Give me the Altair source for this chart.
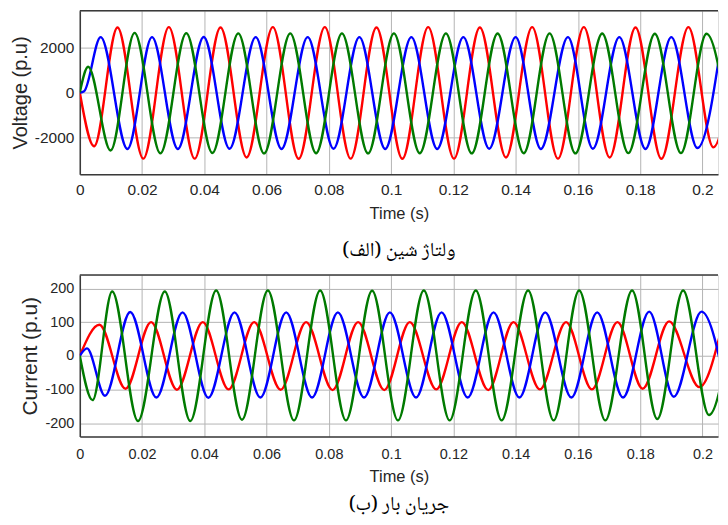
import altair as alt
import pandas as pd

# ---------------- Voltage (extrema) ----------------
v_red_t = [0, 0.0046, 0.0121, 0.0204, 0.0286, 0.0369, 0.0452, 0.0536, 0.0620, 0.0703,
           0.0787, 0.0870, 0.0953, 0.1036, 0.1119, 0.1202, 0.1285, 0.1369, 0.1453, 0.1536,
           0.1619, 0.1702, 0.1785, 0.1868, 0.1955, 0.2035, 0.2110]
v_red_v = [0, -2400, 2900, -2950, 2920, -2950, 2900, -2900, 2920, -2960,
           2920, -2950, 2900, -2960, 2920, -2950, 2900, -2900, 2920, -2950,
           2920, -2900, 2900, -2960, 2920, -2450, 2700]

v_blue_t = [0, 0.0014, 0.0067, 0.0153, 0.0232, 0.0315, 0.0398, 0.0481, 0.0565, 0.0648,
            0.0732, 0.0815, 0.0898, 0.0981, 0.1065, 0.1148, 0.1232, 0.1315, 0.1400, 0.1481,
            0.1568, 0.1648, 0.1733, 0.1817, 0.1900, 0.1984, 0.2063]
v_blue_v = [0, 60, 2470, -2520, 2470, -2520, 2480, -2510, 2470, -2520,
            2470, -2510, 2470, -2520, 2470, -2520, 2470, -2510, 2470, -2520,
            2470, -2510, 2470, -2520, 2470, -2480, 2450]

v_green_t = [0, 0.0027, 0.0099, 0.0176, 0.0259, 0.0342, 0.0426, 0.0509, 0.0592, 0.0676,
             0.0759, 0.0842, 0.0926, 0.1009, 0.1092, 0.1176, 0.1259, 0.1342, 0.1426, 0.1509,
             0.1592, 0.1678, 0.1762, 0.1847, 0.1931, 0.2013, 0.2095]
v_green_v = [0, 1150, -2590, 2660, -2720, 2650, -2700, 2640, -2720, 2640,
             -2710, 2640, -2720, 2640, -2710, 2640, -2720, 2630, -2710, 2640,
             -2720, 2630, -2705, 2620, -2705, 2620, -2650]

# ---------------- Current (extrema) ----------------
c_red_t = [0, 0.0063, 0.0147, 0.0229, 0.0312, 0.0395, 0.0478, 0.0560, 0.0645, 0.0727,
           0.0812, 0.0894, 0.0978, 0.1060, 0.1145, 0.1227, 0.1312, 0.1393, 0.1478, 0.1562,
           0.1645, 0.1727, 0.1808, 0.1893, 0.1990, 0.2062]
c_red_v = [0, 92, -98, 100, -101, 100, -100, 100, -101, 100,
           -102, 100, -102, 100, -100, 100, -102, 100, -100, 100,
           -100, 100, -98, 102, -93, 83]

c_blue_t = [0, 0.0023, 0.0081, 0.0162, 0.0246, 0.0330, 0.0413, 0.0497, 0.0580, 0.0663,
            0.0746, 0.0829, 0.0913, 0.0996, 0.1080, 0.1162, 0.1246, 0.1329, 0.1412, 0.1495,
            0.1579, 0.1662, 0.1745, 0.1829, 0.1908, 0.1997, 0.2080]
c_blue_v = [0, 22, -119, 130, -124, 129, -125, 129, -124, 129,
            -124, 129, -124, 129, -124, 129, -124, 129, -124, 129,
            -124, 129, -124, 131, -122, 131, -118]

c_green_t = [0, 0.0041, 0.0104, 0.0187, 0.0273, 0.0355, 0.0438, 0.0521, 0.0604, 0.0688,
             0.0772, 0.0855, 0.0939, 0.1022, 0.1105, 0.1188, 0.1272, 0.1355, 0.1440, 0.1522,
             0.1604, 0.1688, 0.1774, 0.1855, 0.1938, 0.2021, 0.2105]
c_green_v = [0, -132, 191, -194, 191, -194, 194, -190, 194, -192,
             194, -192, 193, -192, 194, -192, 194, -192, 194, -192,
             194, -192, 194, -188, 194, -176, 170]

x_ticks = [0, 0.02, 0.04, 0.06, 0.08, 0.1, 0.12, 0.14, 0.16, 0.18, 0.2]
v_ticks = [-2000, 0, 2000]
c_ticks = [-200, -100, 0, 100, 200]

phases = ["a", "b", "c"]
colors = ["#ff0000", "#0000ff", "#007a00"]


def long_df(series):
    rows = []
    for name, ts, vs in series:
        for t, v in zip(ts, vs):
            rows.append({"t": t, "v": v, "phase": name})
    return pd.DataFrame(rows)


v_df = long_df([("a", v_red_t, v_red_v), ("b", v_blue_t, v_blue_v), ("c", v_green_t, v_green_v)])
c_df = long_df([("a", c_red_t, c_red_v), ("b", c_blue_t, c_blue_v), ("c", c_green_t, c_green_v)])

FONT = "Liberation Sans"
TXT = "#262626"
GRID = "#b4b4b4"
FRAME = "#3a3a3a"
ARABIC = "Noto Naskh Arabic, Noto Serif Arabic, Amiri, Scheherazade New, DejaVu Serif, serif"


def panel(df, ydomain, yticks, ytitle, caption, w, h, lab_size, ttl_size, lab_pad, cap_offset):
    x = alt.X("t:Q", scale=alt.Scale(domain=[0, 0.205], nice=False, zero=False),
              axis=alt.Axis(values=x_ticks, format="~g", title="Time (s)",
                            grid=True, gridColor=GRID, gridWidth=1,
                            ticks=False, tickSize=0, labelPadding=lab_pad,
                            labelFontSize=lab_size, labelFont=FONT, labelColor=TXT,
                            titleFontSize=16.5, titleFont=FONT, titleColor=TXT,
                            titleFontWeight="normal", titlePadding=8,
                            domain=True, domainColor=FRAME, domainWidth=1.5,
                            labelFlush=False))
    y = alt.Y("v:Q", scale=alt.Scale(domain=ydomain, nice=False, zero=False),
              axis=alt.Axis(values=yticks, labelExpr="'' + datum.value", title=ytitle,
                            grid=True, gridColor=GRID, gridWidth=1,
                            ticks=False, tickSize=0, labelPadding=6,
                            labelFontSize=lab_size, labelFont=FONT, labelColor=TXT,
                            titleFontSize=ttl_size, titleFont=FONT, titleColor=TXT,
                            titleFontWeight="normal", titlePadding=4,
                            domain=True, domainColor=FRAME, domainWidth=1.5))
    lines = alt.Chart(df).mark_line(interpolate="monotone", strokeWidth=2.4, clip=True).encode(
        x=x, y=y,
        color=alt.Color("phase:N", scale=alt.Scale(domain=phases, range=colors), legend=None),
    )
    top = alt.Chart(alt.Data(values=[{}])).mark_rule(color=FRAME, strokeWidth=1.5).encode(
        x=alt.value(0), x2=alt.value(w), y=alt.value(0)
    )
    return alt.layer(lines, top).properties(
        width=w, height=h,
        title=alt.TitleParams(caption, orient="bottom", fontSize=20, font=ARABIC,
                              fontWeight="normal", color="#000000", offset=cap_offset),
    )


vp = panel(v_df, [-3650, 3650], v_ticks, "Voltage (p.u)", "ولتاژ شین (الف)",
           640, 164, 15.5, 20, 8, 18)
cp = panel(c_df, [-240, 240], c_ticks, "Current (p.u)", "جریان بار (ب)",
           640, 162, 14.5, 21, 11, 9)

chart = alt.vconcat(vp, cp, spacing=12).properties(
    padding={"left": 1, "top": 0, "right": 0, "bottom": 10}
).configure_view(stroke=None).configure(background="white")

chart.save("out.html", embed_options={"renderer": "svg", "actions": False})
